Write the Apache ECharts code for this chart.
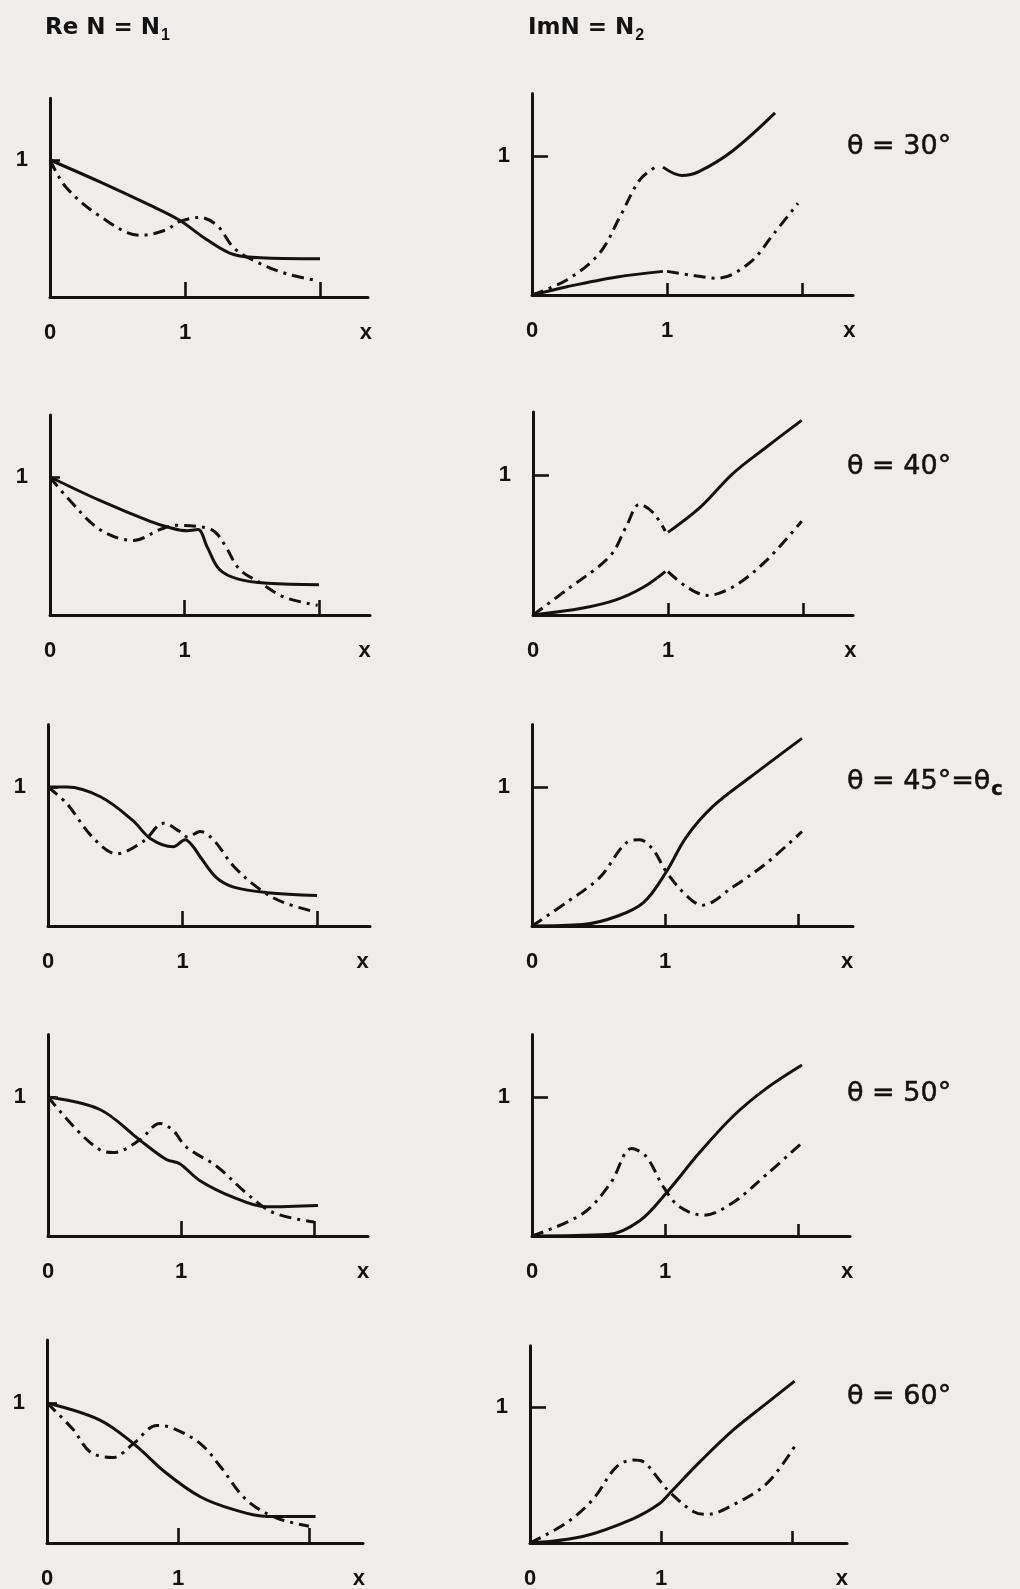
<!DOCTYPE html>
<html>
<head>
<meta charset="utf-8">
<title>Re N et Im N en fonction de x</title>
<script src="https://cdn.jsdelivr.net/npm/echarts@6/dist/echarts.min.js"></script>
<style>
  html, body { margin: 0; padding: 0; background: #efedeb; }
  #chart { width: 1020px; height: 1589px; }
</style>
</head>
<body>
<div id="chart"></div>
<script>
// Column headers and angle labels
const headers = ['Re N = N|1', 'ImN = N|2'];
const angleLabels = ['θ = 30°', 'θ = 40°', 'θ = 45°=θ|c', 'θ = 50°', 'θ = 60°'];

// Tick labels
const xTickLabels = ['0', '1', 'x'];
const yTickLabel = '1';

// θ = 30°
const re30Solid = [[0,1],[0.37,0.84],[0.74,0.67],[0.96,0.56],[1.16,0.42],[1.36,0.31],[1.6,0.285],[2.0,0.28]];
const re30Dash  = [[0,1],[0.12,0.8],[0.37,0.59],[0.67,0.45],[0.86,0.49],[0.96,0.55],[1.11,0.58],[1.24,0.52],[1.36,0.36],[1.5,0.27],[1.75,0.17],[1.98,0.12]];
const im30SolidLow = [[0,0],[0.26,0.06],[0.63,0.13],[0.97,0.17]];
const im30DashLow  = [[1.0,0.17],[1.2,0.14],[1.37,0.12],[1.61,0.23],[1.79,0.44],[1.97,0.66]];
const im30DashUp   = [[0,0],[0.26,0.11],[0.5,0.3],[0.65,0.56],[0.8,0.83],[0.93,0.93]];
const im30SolidUp  = [[0.97,0.92],[1.11,0.86],[1.24,0.89],[1.49,1.04],[1.8,1.31]];

// θ = 40°
const re40Solid = [[0,1],[0.37,0.83],[0.74,0.68],[0.9,0.63],[1.02,0.61],[1.1,0.62],[1.17,0.49],[1.26,0.33],[1.4,0.26],[1.62,0.23],[2.0,0.22]];
const re40Dash  = [[0,1],[0.12,0.86],[0.37,0.62],[0.62,0.54],[0.82,0.62],[0.94,0.65],[1.17,0.63],[1.24,0.59],[1.31,0.49],[1.41,0.33],[1.57,0.23],[1.74,0.13],[1.99,0.07]];
const im40DashUp   = [[0,0],[0.25,0.18],[0.57,0.42],[0.69,0.63],[0.79,0.79],[0.89,0.73],[0.98,0.6]];
const im40SolidUp  = [[1.0,0.59],[1.24,0.77],[1.48,1.01],[1.73,1.2],[1.99,1.39]];
const im40SolidLow = [[0,0],[0.37,0.05],[0.62,0.11],[0.82,0.2],[0.98,0.31]];
const im40DashLow  = [[1.0,0.31],[1.14,0.2],[1.29,0.14],[1.48,0.2],[1.73,0.39],[1.99,0.67]];

// θ = 45° = θc
const re45Solid = [[0,1],[0.14,1.0],[0.39,0.93],[0.63,0.76],[0.76,0.63],[0.93,0.57],[1.02,0.62],[1.08,0.57],[1.13,0.5],[1.25,0.35],[1.38,0.28],[1.63,0.24],[2.0,0.22]];
const re45Dash  = [[0,1],[0.14,0.88],[0.33,0.64],[0.51,0.52],[0.71,0.61],[0.86,0.74],[0.98,0.68],[1.04,0.64],[1.13,0.68],[1.23,0.62],[1.38,0.43],[1.58,0.26],[1.75,0.17],[1.99,0.1]];
const im45Dash  = [[0,0],[0.26,0.17],[0.51,0.35],[0.71,0.6],[0.81,0.62],[0.91,0.55],[1.01,0.39],[1.16,0.22],[1.28,0.15],[1.51,0.28],[1.76,0.45],[2.03,0.68]];
const im45Solid = [[0,0],[0.38,0.01],[0.64,0.07],[0.84,0.17],[1.01,0.39],[1.16,0.64],[1.36,0.86],[1.64,1.07],[2.03,1.35]];

// θ = 50°
const re50Solid = [[0,1],[0.39,0.91],[0.69,0.69],[0.89,0.55],[0.99,0.52],[1.14,0.4],[1.39,0.28],[1.64,0.21],[2.03,0.22]];
const re50Dash  = [[0,1],[0.22,0.76],[0.39,0.62],[0.49,0.6],[0.69,0.69],[0.84,0.81],[0.94,0.76],[1.04,0.64],[1.27,0.5],[1.49,0.31],[1.69,0.17],[2.0,0.1]];
const im50Dash  = [[0,0],[0.38,0.16],[0.59,0.38],[0.75,0.63],[0.86,0.57],[0.99,0.35],[1.11,0.21],[1.29,0.15],[1.51,0.24],[1.76,0.44],[2.03,0.67]];
const im50Solid = [[0,0],[0.57,0.01],[0.81,0.11],[1.01,0.31],[1.26,0.6],[1.51,0.86],[1.76,1.06],[2.03,1.23]];

// θ = 60°
const re60Solid = [[0,1],[0.4,0.88],[0.66,0.71],[0.91,0.5],[1.17,0.33],[1.42,0.24],[1.68,0.19],[2.05,0.19]];
const re60Dash  = [[0,1],[0.2,0.81],[0.33,0.65],[0.5,0.61],[0.66,0.71],[0.84,0.84],[0.96,0.82],[1.17,0.71],[1.32,0.55],[1.52,0.31],[1.75,0.18],[2.0,0.12]];
const im60Dash  = [[0,0],[0.28,0.15],[0.48,0.32],[0.66,0.56],[0.79,0.61],[0.86,0.6],[0.99,0.46],[1.07,0.37],[1.25,0.23],[1.35,0.21],[1.55,0.28],[1.81,0.44],[2.02,0.71]];
const im60Solid = [[0,0],[0.41,0.05],[0.79,0.18],[0.99,0.29],[1.07,0.37],[1.3,0.6],[1.55,0.83],[1.81,1.03],[2.02,1.19]];

// Panels, row by row: left = Re N, right = Im N
const panels = [
  { solid: [re30Solid], dash: [re30Dash] },
  { solid: [im30SolidLow, im30SolidUp], dash: [im30DashUp, im30DashLow] },
  { solid: [re40Solid], dash: [re40Dash] },
  { solid: [im40SolidLow, im40SolidUp], dash: [im40DashUp, im40DashLow] },
  { solid: [re45Solid], dash: [re45Dash] },
  { solid: [im45Solid], dash: [im45Dash] },
  { solid: [re50Solid], dash: [re50Dash] },
  { solid: [im50Solid], dash: [im50Dash] },
  { solid: [re60Solid], dash: [re60Dash] },
  { solid: [im60Solid], dash: [im60Dash] }
];

// Plot frames (pixels): left edge, baseline, pixels per unit in x / y, axis end, and where the "x" label sits
const frames = [
  { left: 50,  base: 297,  ux: 135,   uy: 137, end: 368, xMark: 2.34 },
  { left: 532, base: 295,  ux: 135,   uy: 139, end: 853, xMark: 2.35 },
  { left: 50,  base: 615,  ux: 134.5, uy: 138, end: 370, xMark: 2.34 },
  { left: 533, base: 615,  ux: 135,   uy: 140, end: 853, xMark: 2.35 },
  { left: 48,  base: 926,  ux: 134.5, uy: 139, end: 370, xMark: 2.34 },
  { left: 532, base: 926,  ux: 133,   uy: 139, end: 853, xMark: 2.37 },
  { left: 48,  base: 1236, ux: 133,   uy: 139, end: 368, xMark: 2.37 },
  { left: 532, base: 1236, ux: 133,   uy: 139, end: 850, xMark: 2.37 },
  { left: 47,  base: 1543, ux: 131,   uy: 140, end: 363, xMark: 2.38 },
  { left: 530, base: 1543, ux: 131,   uy: 136, end: 847, xMark: 2.38 }
];
const Y_MAX = 1.45;

const ink = '#121212';
const font = '"Liberation Sans", Arial, Helvetica, sans-serif';
const wideFont = '"DejaVu Sans", Verdana, sans-serif';
const dashDot = [12, 6, 3, 6];

const chart = echarts.init(document.getElementById('chart'), null, { renderer: 'canvas' });

const grids = [], xAxes = [], yAxes = [], series = [];

panels.forEach((p, i) => {
  const f = frames[i];
  const h = Y_MAX * f.uy;
  const w = f.end - f.left;
  const xMax = w / f.ux;
  const isRight = i % 2 === 1;
  grids.push({ left: f.left, top: f.base - h, width: w, height: h, containLabel: false, outerBoundsMode: 'none' });
  xAxes.push({
    gridIndex: i, type: 'value', min: 0, max: xMax,
    axisLine: { show: true, onZero: false, lineStyle: { color: ink, width: 3 } },
    axisTick: { show: true, inside: true, length: isRight ? 12 : 15, customValues: [1, 2], lineStyle: { color: ink, width: 2.6 } },
    axisLabel: {
      show: true, customValues: [0, 1, f.xMark], margin: 25,
      formatter: v => v === 0 ? xTickLabels[0] : (v === 1 ? xTickLabels[1] : xTickLabels[2]),
      color: ink, fontSize: 22, fontWeight: 'bold', fontFamily: font
    },
    splitLine: { show: false }
  });
  yAxes.push({
    gridIndex: i, type: 'value', min: 0, max: Y_MAX,
    axisLine: { show: true, onZero: false, lineStyle: { color: ink, width: 3 } },
    axisTick: { show: true, inside: true, length: isRight ? 16 : 10, customValues: [1], lineStyle: { color: ink, width: 2.6 } },
    axisLabel: {
      show: true, customValues: [1], margin: 22,
      formatter: () => yTickLabel,
      color: ink, fontSize: 22, fontWeight: 'bold', fontFamily: font
    },
    splitLine: { show: false }
  });
  const addLine = (data, type) => series.push({
    type: 'line', xAxisIndex: i, yAxisIndex: i, data,
    showSymbol: false, symbol: 'none', smooth: 0.35, silent: true,
    lineStyle: { color: ink, width: 3, type, cap: 'butt' }
  });
  p.solid.forEach(d => addLine(d, 'solid'));
  p.dash.forEach(d => addLine(d, dashDot));
});

// Text with a subscript part written as "main|sub"
function richText(s) {
  const k = s.indexOf('|');
  if (k < 0) return '{m|' + s + '}';
  return '{m|' + s.slice(0, k) + '}{s|' + s.slice(k + 1) + '}';
}

const titles = [];
const headerPos = [{ left: 40, top: 7 }, { left: 523, top: 7 }];
headers.forEach((t, j) => titles.push({
  text: richText(t), left: headerPos[j].left, top: headerPos[j].top,
  textStyle: {
    rich: {
      m: { fontFamily: wideFont, fontSize: 23, fontWeight: 'bold', color: ink, lineHeight: 32 },
      s: { fontFamily: font, fontSize: 16, fontWeight: 'bold', color: ink, verticalAlign: 'bottom', padding: [15, 0, 0, 1] }
    }
  }
}));
const angleTops = [125, 445, 759, 1072, 1375];
angleLabels.forEach((t, j) => titles.push({
  text: richText(t), left: 842, top: angleTops[j],
  textStyle: {
    rich: {
      m: { fontFamily: wideFont, fontSize: 27, fontWeight: 'normal', color: ink, lineHeight: 34, textBorderColor: ink, textBorderWidth: 0.5 },
      s: { fontFamily: wideFont, fontSize: 19, color: ink, padding: [17, 0, 0, 1], textBorderColor: ink, textBorderWidth: 0.5 }
    }
  }
}));

chart.setOption({
  animation: false,
  backgroundColor: '#efedeb',
  title: titles,
  grid: grids,
  xAxis: xAxes,
  yAxis: yAxes,
  series: series
});
</script>
</body>
</html>
